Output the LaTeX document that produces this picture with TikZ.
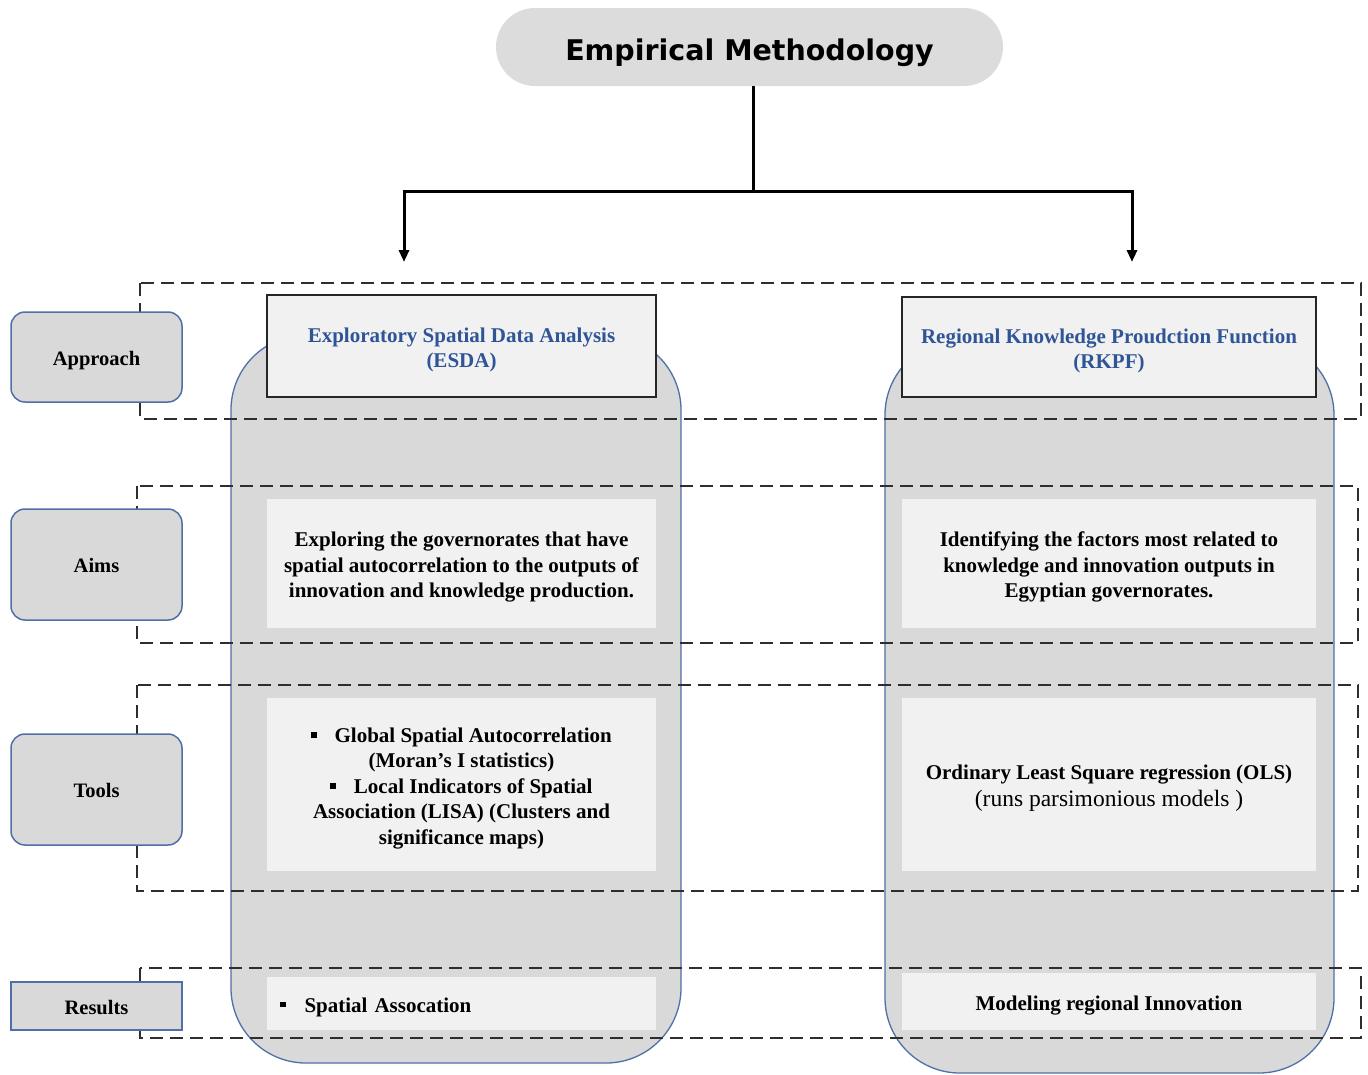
\documentclass[tikz,border=0pt]{standalone}
\usepackage{fontspec}
\setmainfont{Liberation Serif}
\newfontfamily\headfont{DejaVu Sans}
\usetikzlibrary{arrows.meta}

\definecolor{colfill}{HTML}{D9D9D9}
\definecolor{titlefill}{HTML}{DCDCDC}
\definecolor{boxfill}{HTML}{F1F1F1}
\definecolor{edgeblue}{HTML}{4F6FA8}
\definecolor{headblue}{HTML}{2F5597}
\definecolor{dashgray}{HTML}{2E2E2E}

% small square bullet used in the list items
\newcommand\sqbullet{\raisebox{0.22em}{\rule{5.5pt}{5.5pt}}}
% invisible strut of a given total height, so that text lines sit on
% fixed line boxes rather than on their ink
\newcommand\linestrut[1]{\rule[-0.216em]{0pt}{#1}}
% taller first line for the multi-line blocks
\newcommand\firstlift{\rule{0pt}{1.07em}}

\begin{document}
\begin{tikzpicture}[x=1pt,y=-1pt,
  struts/.style={execute at begin node=\linestrut{#1}, execute at end node=\linestrut{#1}},
  body/.style={font=\fontsize{21}{25.5}\selectfont\bfseries, align=center, struts=1.25em},
  titlebox/.style={fill=titlefill, rounded corners=39pt, minimum width=507pt,
    minimum height=78pt, inner sep=0pt, struts=1.39em,
    font=\headfont\fontsize{28.5}{34}\selectfont\bfseries},
  sidelabel/.style={draw=edgeblue, line width=1.5pt, fill=colfill, rounded corners=14pt,
    minimum width=171pt, inner sep=0pt, struts=1.26em,
    font=\fontsize{20.5}{25}\selectfont\bfseries},
  approachbox/.style={draw=black!85, line width=2.5pt, fill=boxfill, inner sep=0pt,
    text=headblue, body},
  contentbox/.style={fill=boxfill, inner sep=0pt, body},
  column/.style={fill=colfill, draw=edgeblue, line width=1.3pt, rounded corners=75pt},
  rowframe/.style={draw=dashgray, line width=2pt, dash pattern=on 13pt off 7pt},
  link/.style={line width=3pt, draw=black, line join=miter},
]
\useasboundingbox (0,0) rectangle (1368,1074);

% two method columns
\path[column] (231,335) rectangle (681,1063);
\path[column] (885,340) rectangle (1334,1073);

% dashed row frames
\draw[rowframe] (140,283) rectangle (1361,419);
\draw[rowframe] (137,486) rectangle (1358,643);
\draw[rowframe] (137,685) rectangle (1358,891);
\draw[rowframe] (140,968) rectangle (1361,1038);

% heading
\node[titlebox] (title) at (749.5,47) {Empirical Methodology};

% approach row
\node[approachbox, minimum width=389pt, minimum height=102pt] (esda) at (461.5,346)
  {\firstlift Exploratory Spatial Data Analysis\\(ESDA)};
\node[approachbox, minimum width=414pt, minimum height=100pt] (rkpf) at (1109,347)
  {\firstlift Regional Knowledge Proudction Function\\(RKPF)};

% aims row
\node[contentbox, minimum width=389pt, minimum height=129pt] (aimsL) at (461.5,563.5)
  {\firstlift Exploring the governorates that have\\spatial autocorrelation to the outputs of\\innovation and knowledge production.};
\node[contentbox, minimum width=414pt, minimum height=129pt] (aimsR) at (1109,563.5)
  {\firstlift Identifying the factors most related to\\knowledge and innovation outputs in\\Egyptian governorates.};

% tools row
\node[contentbox, minimum width=389pt, minimum height=173pt] (toolsL) at (461.5,784.5)
  {\firstlift\sqbullet\hspace{18pt}Global Spatial Autocorrelation\\(Moran’s I statistics)\\
   \sqbullet\hspace{18pt}Local Indicators of Spatial\\Association (LISA) (Clusters and\\significance maps)};
\node[contentbox, minimum width=414pt, minimum height=173pt] (toolsR) at (1109,784.5)
  {\firstlift Ordinary Least Square regression (OLS)\\[1.5pt]{\mdseries\fontsize{23.5}{26}\selectfont(runs parsimonious models )}};

% results row
\node[contentbox, align=left, text width=363pt, inner xsep=13pt, minimum height=53pt]
  (resL) at (461.5,1003.5) {\sqbullet\hspace{19pt}Spatial Assocation};
\node[contentbox, minimum width=414pt, minimum height=57pt] (resR) at (1109,1001.5)
  {Modeling regional Innovation};

% row labels
\node[sidelabel, minimum height=90pt] (lapp) at (96.5,357) {Approach};
\node[sidelabel, minimum height=111pt] (laims) at (96.5,564.5) {Aims};
\node[sidelabel, minimum height=111pt] (ltools) at (96.5,789.5) {Tools};
\node[sidelabel, rounded corners=0pt, minimum height=48pt] (lres) at (96.5,1006) {Results};

% branching connector from the heading
\coordinate (hub) at (753,191);
\coordinate (lefttip) at (404,262);
\coordinate (righttip) at (1132,262);
\draw[link] (title.south -| hub) -- (hub);
\draw[link, -{Triangle[width=10pt,length=12pt]}] (hub) -| (lefttip);
\draw[link, -{Triangle[width=10pt,length=12pt]}] (hub) -| (righttip);
\end{tikzpicture}
\end{document}
